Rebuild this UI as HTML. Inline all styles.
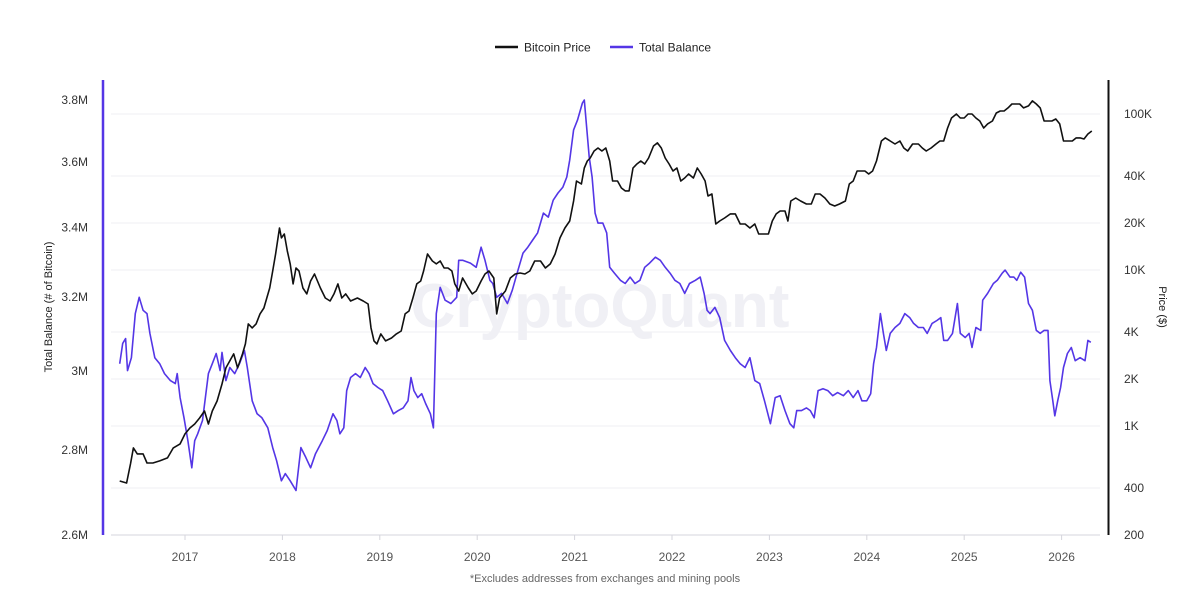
<!DOCTYPE html>
<html><head><meta charset="utf-8">
<style>
html,body{margin:0;padding:0;background:#fff;}
svg{display:block;font-family:"Liberation Sans",sans-serif;}
</style></head>
<body>
<svg id="chart" width="1202" height="592" viewBox="0 0 1202 592" xmlns="http://www.w3.org/2000/svg">
<rect x="0" y="0" width="1202" height="592" fill="#fff"/>
<g id="grid"></g>
<text x="600" y="327" text-anchor="middle" font-size="62" font-weight="bold" fill="#f0f0f5">CryptoQuant</text>
<g id="series"></g>
<g id="axes"></g>
<g>
 <g>
  <line x1="495" y1="47" x2="518" y2="47" stroke="#111" stroke-width="2.5"/>
  <text x="524" y="51.5" font-size="12" fill="#222">Bitcoin Price</text>
 </g>
 <g>
  <line x1="610" y1="47" x2="633" y2="47" stroke="#5436e6" stroke-width="2.5"/>
  <text x="639" y="51.5" font-size="12" fill="#222">Total Balance</text>
 </g>
</g>
<text transform="translate(52,307) rotate(-90)" text-anchor="middle" font-size="11" fill="#222">Total Balance (# of Bitcoin)</text>
<text transform="translate(1159,307) rotate(90)" text-anchor="middle" font-size="11" fill="#222">Price ($)</text>
<text x="605" y="582" text-anchor="middle" font-size="11" fill="#666">*Excludes addresses from exchanges and mining pools</text>
</svg>
<script>
const yearTicks=[2017,2018,2019,2020,2021,2022,2023,2024,2025,2026];
const balTicks=[2.6,2.8,3.0,3.2,3.4,3.6,3.8];
const balTickLabels=["2.6M","2.8M","3M","3.2M","3.4M","3.6M","3.8M"];
const priceTicks=[200,400,1000,2000,4000,10000,20000,40000,100000];
const priceTickLabels=["200","400","1K","2K","4K","10K","20K","40K","100K"];

const priceDates=[2016.33,2016.40,2016.44,2016.47,2016.51,2016.57,2016.61,2016.67,2016.74,2016.82,2016.88,2016.95,2017.00,2017.05,2017.10,2017.15,2017.20,2017.24,2017.28,2017.33,2017.38,2017.42,2017.46,2017.50,2017.54,2017.59,2017.62,2017.65,2017.69,2017.73,2017.77,2017.81,2017.84,2017.87,2017.90,2017.93,2017.97,2017.99,2018.02,2018.05,2018.08,2018.11,2018.14,2018.17,2018.21,2018.25,2018.29,2018.33,2018.39,2018.44,2018.49,2018.53,2018.57,2018.61,2018.65,2018.70,2018.77,2018.83,2018.88,2018.91,2018.94,2018.97,2019.01,2019.06,2019.12,2019.17,2019.22,2019.26,2019.30,2019.34,2019.38,2019.42,2019.45,2019.49,2019.54,2019.58,2019.62,2019.66,2019.70,2019.74,2019.77,2019.81,2019.85,2019.91,2019.95,2019.99,2020.04,2020.08,2020.12,2020.17,2020.20,2020.23,2020.29,2020.34,2020.39,2020.44,2020.49,2020.54,2020.59,2020.65,2020.70,2020.75,2020.80,2020.85,2020.90,2020.95,2020.99,2021.02,2021.07,2021.10,2021.13,2021.16,2021.20,2021.24,2021.28,2021.32,2021.36,2021.39,2021.44,2021.48,2021.52,2021.56,2021.60,2021.64,2021.68,2021.72,2021.76,2021.81,2021.85,2021.89,2021.93,2021.97,2022.01,2022.05,2022.09,2022.13,2022.17,2022.22,2022.26,2022.30,2022.34,2022.37,2022.41,2022.45,2022.49,2022.54,2022.60,2022.65,2022.70,2022.75,2022.80,2022.85,2022.89,2022.94,2022.99,2023.03,2023.07,2023.11,2023.16,2023.19,2023.22,2023.27,2023.32,2023.38,2023.43,2023.47,2023.52,2023.57,2023.62,2023.67,2023.72,2023.78,2023.82,2023.86,2023.90,2023.94,2023.98,2024.02,2024.06,2024.10,2024.15,2024.19,2024.24,2024.29,2024.34,2024.38,2024.42,2024.47,2024.53,2024.57,2024.61,2024.66,2024.71,2024.75,2024.79,2024.83,2024.87,2024.92,2024.96,2025.00,2025.04,2025.08,2025.12,2025.16,2025.20,2025.24,2025.29,2025.33,2025.37,2025.41,2025.45,2025.49,2025.53,2025.57,2025.61,2025.66,2025.70,2025.74,2025.78,2025.82,2025.86,2025.90,2025.94,2025.98,2026.02,2026.07,2026.11,2026.15,2026.19,2026.23,2026.27,2026.31];
const priceValues=[444,431,571,723,662,662,579,579,597,624,723,767,889,971,1030,1125,1248,1030,1248,1445,1858,2355,2612,2896,2355,2896,3356,4508,4249,4508,5226,5707,6614,7667,9853,12665,18580,16040,17010,13240,10930,8135,10300,9853,7667,7019,8500,9427,7667,6614,6327,7019,8135,6614,7019,6327,6614,6327,6053,4249,3508,3356,3890,3508,3664,3890,4064,5226,5459,6614,8135,8500,9853,12665,11420,10930,11420,10300,10300,9853,8135,7335,8886,7667,7019,7335,8500,9427,9853,8886,5226,6614,7335,8886,9427,9568,9427,9853,11420,11420,10300,10930,12665,16040,18580,20610,27690,37200,35590,45060,49960,52240,57920,60540,57920,60540,49960,37200,37200,33550,32100,32100,45060,47800,49960,47800,52240,62360,65200,60540,52240,47800,43110,45060,37200,38880,41250,38880,45060,41250,37200,29810,30700,19720,20610,21540,22860,22860,19720,19720,18580,19720,17010,17010,17010,20610,22860,23890,23890,20610,27690,28940,27690,26490,26490,30700,30700,28940,26490,25720,26490,27690,35590,37200,43110,43110,43110,41250,43110,49960,67140,70200,67140,64230,67140,60540,57920,64230,64230,60540,57920,60540,64230,67140,67140,81330,94270,100000,94270,94270,100000,100000,94270,90190,81330,86300,90190,101500,104500,104500,109300,115900,115900,115900,109300,112600,121200,115900,109300,90190,90190,90190,92880,86300,67140,67140,67140,70200,70200,69150,74440,77800];

const balDates=[2016.33,2016.36,2016.39,2016.41,2016.45,2016.49,2016.53,2016.57,2016.61,2016.64,2016.69,2016.74,2016.79,2016.85,2016.90,2016.92,2016.95,2016.99,2017.03,2017.07,2017.10,2017.13,2017.18,2017.24,2017.28,2017.32,2017.36,2017.38,2017.42,2017.46,2017.51,2017.56,2017.61,2017.64,2017.69,2017.74,2017.79,2017.85,2017.90,2017.94,2017.99,2018.03,2018.08,2018.14,2018.19,2018.24,2018.29,2018.34,2018.41,2018.46,2018.52,2018.56,2018.59,2018.63,2018.66,2018.70,2018.75,2018.80,2018.85,2018.89,2018.93,2018.98,2019.03,2019.08,2019.14,2019.19,2019.24,2019.29,2019.32,2019.35,2019.39,2019.43,2019.47,2019.52,2019.55,2019.58,2019.62,2019.67,2019.73,2019.79,2019.81,2019.85,2019.93,2019.99,2020.04,2020.08,2020.13,2020.16,2020.20,2020.25,2020.31,2020.36,2020.41,2020.47,2020.52,2020.57,2020.62,2020.68,2020.73,2020.78,2020.83,2020.88,2020.92,2020.95,2020.99,2021.03,2021.08,2021.10,2021.12,2021.15,2021.18,2021.21,2021.24,2021.29,2021.33,2021.36,2021.41,2021.47,2021.52,2021.57,2021.62,2021.67,2021.72,2021.77,2021.83,2021.88,2021.93,2021.98,2022.03,2022.08,2022.13,2022.18,2022.24,2022.29,2022.33,2022.36,2022.39,2022.44,2022.49,2022.54,2022.60,2022.65,2022.70,2022.75,2022.80,2022.85,2022.90,2022.95,2023.01,2023.06,2023.11,2023.16,2023.21,2023.25,2023.28,2023.33,2023.38,2023.42,2023.46,2023.50,2023.55,2023.60,2023.65,2023.70,2023.76,2023.81,2023.86,2023.91,2023.95,2024.00,2024.04,2024.07,2024.10,2024.14,2024.17,2024.20,2024.24,2024.29,2024.34,2024.39,2024.44,2024.48,2024.53,2024.58,2024.62,2024.67,2024.72,2024.76,2024.79,2024.83,2024.88,2024.93,2024.96,2025.01,2025.05,2025.08,2025.12,2025.17,2025.19,2025.24,2025.30,2025.34,2025.39,2025.42,2025.47,2025.51,2025.54,2025.58,2025.62,2025.66,2025.70,2025.74,2025.78,2025.82,2025.86,2025.88,2025.91,2025.93,2025.96,2025.99,2026.02,2026.06,2026.10,2026.14,2026.19,2026.24,2026.27,2026.30];
const balValues=[3.019,3.073,3.086,3.001,3.035,3.154,3.199,3.163,3.154,3.100,3.035,3.019,2.993,2.975,2.967,2.993,2.931,2.880,2.823,2.757,2.823,2.840,2.873,2.993,3.019,3.046,3.001,3.049,2.975,3.009,2.993,3.019,3.054,3.009,2.923,2.890,2.880,2.855,2.806,2.774,2.726,2.743,2.726,2.703,2.806,2.782,2.757,2.791,2.823,2.848,2.890,2.873,2.840,2.855,2.949,2.983,2.993,2.983,3.009,2.993,2.967,2.957,2.949,2.923,2.890,2.898,2.905,2.923,2.983,2.949,2.931,2.941,2.916,2.890,2.855,3.154,3.227,3.191,3.182,3.199,3.304,3.304,3.296,3.284,3.342,3.304,3.247,3.238,3.199,3.210,3.182,3.219,3.267,3.325,3.342,3.363,3.384,3.443,3.431,3.482,3.504,3.522,3.553,3.606,3.702,3.734,3.790,3.800,3.724,3.616,3.553,3.443,3.413,3.413,3.384,3.284,3.267,3.247,3.238,3.256,3.238,3.247,3.284,3.296,3.313,3.304,3.284,3.267,3.247,3.238,3.210,3.238,3.247,3.256,3.210,3.163,3.154,3.171,3.143,3.081,3.054,3.035,3.019,3.009,3.035,2.975,2.967,2.923,2.865,2.931,2.936,2.898,2.865,2.855,2.898,2.898,2.905,2.898,2.880,2.949,2.954,2.949,2.936,2.944,2.936,2.949,2.931,2.949,2.923,2.923,2.941,3.019,3.062,3.154,3.100,3.054,3.100,3.116,3.127,3.154,3.143,3.127,3.116,3.116,3.100,3.127,3.135,3.143,3.081,3.081,3.100,3.182,3.100,3.089,3.100,3.062,3.116,3.108,3.191,3.210,3.238,3.247,3.267,3.276,3.256,3.256,3.247,3.270,3.256,3.182,3.163,3.108,3.100,3.108,3.108,2.975,2.923,2.885,2.923,2.957,3.009,3.046,3.062,3.027,3.035,3.027,3.081,3.076];

const NS="http://www.w3.org/2000/svg";
const PLOT={left:111,right:1100,top:80,bottom:535};
function xScale(yr){return 185+(yr-2017)*97.4;}
function yBal(v){return 535-(Math.log(v/2.6)/Math.log(3.8/2.6))*435;}
function yPrice(p){return 535-(Math.log10(p/200))*156;}
function mk(tag,attrs,parent){const e=document.createElementNS(NS,tag);for(const k in attrs)e.setAttribute(k,attrs[k]);parent.appendChild(e);return e;}

const grid=document.getElementById('grid');
const axes=document.getElementById('axes');
const series=document.getElementById('series');

priceTicks.forEach((p,i)=>{
  const y=yPrice(p);
  if(i>0){
    const g=mk('line',{x1:PLOT.left,x2:PLOT.right,y1:y,y2:y,stroke:'#efeff3','stroke-width':1},grid);
    
    
  }
  const t=mk('text',{x:1124,y:y+4,'font-size':12,fill:'#333'},axes);
  t.textContent=priceTickLabels[i];
  
  
});
balTicks.forEach((v,i)=>{
  const y=yBal(v);
  const t=mk('text',{x:88,y:y+4,'font-size':12,fill:'#333','text-anchor':'end'},axes);
  t.textContent=balTickLabels[i];
  
  
});
const xa=mk('line',{x1:PLOT.left,x2:PLOT.right,y1:535,y2:535,stroke:'#d5d5dc','stroke-width':1},axes);


yearTicks.forEach(yr=>{
  const x=xScale(yr);
  const tk=mk('line',{x1:x,x2:x,y1:535,y2:540,stroke:'#d5d5dc'},axes);
  
  
  const t=mk('text',{x:x,y:561,'font-size':12,fill:'#555','text-anchor':'middle'},axes);
  t.textContent=String(yr);
  
  
});
const la=mk('line',{x1:103,x2:103,y1:80,y2:535,stroke:'#5436e6','stroke-width':2.5},axes);


const ra=mk('line',{x1:1108.5,x2:1108.5,y1:80,y2:535,stroke:'#111','stroke-width':2},axes);



function pathFrom(dates,vals,yf){return dates.map((d,i)=>(i?'L':'M')+xScale(d).toFixed(1)+','+yf(vals[i]).toFixed(1)).join('');}
const bl=mk('path',{d:pathFrom(balDates,balValues,yBal),fill:'none',stroke:'#5436e6','stroke-width':1.6,'stroke-linejoin':'round'},series);


const pl=mk('path',{d:pathFrom(priceDates,priceValues,yPrice),fill:'none',stroke:'#111','stroke-width':1.6,'stroke-linejoin':'round'},series);


</script>
</body></html>
